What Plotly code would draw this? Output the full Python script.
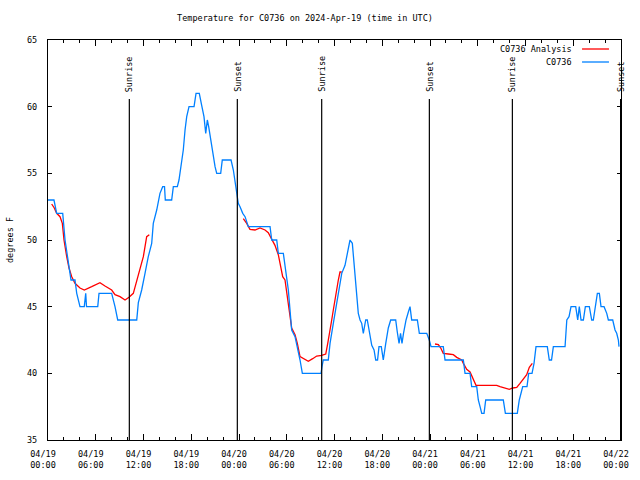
import pandas as pd
import plotly.graph_objects as go

BASE = pd.Timestamp("2024-04-19 00:00")

# Observed C0736 temperatures (hours since 2024-04-19 00:00 UTC, degrees F)
obs_hours = [0.00, 0.75, 1.09, 1.85, 2.14, 2.55, 2.89, 3.39, 3.61, 4.02, 4.56, 4.74, 4.84, 6.25, 6.41,
             8.00, 8.23, 8.42, 8.76, 11.15, 11.35, 11.77, 12.19, 12.60, 13.03, 13.23, 13.66, 14.07,
             14.41, 14.64, 14.74, 15.54, 15.75, 16.25, 16.46, 16.80, 17.00, 17.22, 17.43, 17.72,
             18.35, 18.60, 19.01, 19.31, 19.60, 19.82, 20.02, 20.19, 20.45, 20.70, 20.99, 21.20,
             21.70, 21.90, 23.00, 23.29, 23.59, 23.91, 24.13, 24.47, 24.76, 25.17, 27.90, 28.11,
             28.74, 28.94, 29.57, 29.78, 29.99, 30.20, 30.41, 30.62, 31.04, 31.45, 31.67, 31.96,
             34.31, 34.43, 34.59, 35.22, 35.44, 35.85, 36.19, 36.48, 36.91, 37.32, 37.61, 37.95,
             38.24, 38.58, 38.79, 38.99, 39.21, 39.42, 39.62, 39.92, 40.12, 40.37, 40.68, 40.97,
             41.18, 41.41, 41.59, 41.88, 42.13, 42.44, 42.76, 43.06, 43.69, 43.89, 44.11, 44.30,
             44.48, 44.67, 44.99, 45.28, 45.49, 45.70, 46.41, 46.66, 47.59, 47.91, 48.13, 49.67,
             49.89, 52.19, 52.40, 53.03, 53.24, 53.87, 54.07, 54.29, 54.50, 54.79, 55.00, 57.21,
             57.47, 58.97, 59.22, 59.65, 60.19, 60.40, 60.82, 61.07, 61.32, 62.74, 62.99, 63.27,
             63.50, 64.97, 65.19, 65.47, 65.72, 66.31, 66.56, 66.76, 66.98, 67.27, 67.52, 68.02,
             68.32, 68.52, 68.74, 69.03, 69.28, 69.49, 69.87, 70.21, 70.41, 70.96, 71.25, 71.46,
             71.67, 71.75]
obs_temps = [53, 53, 52, 52, 50, 48.5, 47, 47, 46, 45, 45, 46, 45, 45, 46,
             46, 45.5, 45, 44, 44, 45.3, 46.25, 47.5, 48.75, 49.75, 51.25, 52.25, 53.5,
             54, 54, 53, 53, 54, 54, 54.5, 56, 56.75, 58.25, 59.25, 60,
             60, 61, 61, 60.1, 59.25, 58, 59, 58.5, 57.5, 56.5, 55.5, 55,
             55, 56, 56, 55.25, 54, 52.75, 52.5, 52, 51.75, 51, 51, 50,
             50, 49, 49, 48, 47.25, 46.25, 44.75, 43.25, 42.75, 41.75, 41, 40,
             40, 40.5, 41, 41, 42.25, 43.75, 45, 46.25, 47.5, 48.1, 49, 50,
             49.75, 47.5, 45.5, 44.5, 44, 43.75, 43, 44, 44, 43.1, 42.1, 41.75,
             41, 41, 42, 42, 41, 42.25, 43.4, 44, 44, 43.1, 42.25, 43,
             42.25, 43, 44, 44.6, 45, 44, 44, 43, 43, 42.5, 42, 42,
             41, 41, 40, 40, 39, 39, 38, 37.5, 37, 37, 38, 38,
             37, 37, 38, 39, 39, 40, 40, 40.75, 42, 42, 41, 41,
             42, 42, 44, 44.25, 45, 45, 44, 45, 44, 44, 45, 45,
             44, 44, 45, 46, 46, 45, 45, 44.5, 44, 44, 43.25, 43,
             42.5, 42]

# Analysis segments (hours, degrees F)
ana1_hours = [0.46, 0.79, 1.09, 1.51, 1.80, 2.01, 2.35, 2.64, 2.98, 3.39, 4.02, 4.56, 5.49, 6.53,
              7.16, 8.00, 8.42, 9.05, 9.68, 10.18, 10.72, 11.15, 11.56, 11.98, 12.40, 12.73]
ana1_temps = [52.7, 52.4, 52, 51.75, 51.25, 50, 48.75, 47.9, 47.25, 46.75, 46.4, 46.25, 46.5, 46.8,
              46.55, 46.25, 45.9, 45.75, 45.5, 45.7, 46, 47, 48, 48.75, 50.25, 50.4]
ana2_hours = [24.54, 24.97, 25.38, 26.01, 26.64, 27.27, 27.68, 28.11, 28.52, 28.94, 29.24, 29.49,
              29.78, 30.07, 30.41, 30.62, 31.04, 31.33, 31.67, 32.17, 32.71, 33.26, 33.76, 34.39,
              34.90, 35.15, 35.44, 35.65, 35.85, 36.06, 36.28, 36.48, 36.69, 36.91]
ana2_temps = [51.6, 51.25, 50.8, 50.75, 50.9, 50.75, 50.55, 50.1, 49.6, 48.9, 48, 47.25,
              47, 45.75, 44.25, 43.4, 42.9, 42.25, 41.25, 41.05, 40.9, 41.1, 41.3, 41.35,
              41.45, 42.25, 43.5, 44, 44.75, 45.5, 46.5, 47, 47.6, 47.6]
ana3_hours = [48.63, 49.05, 49.35, 49.67, 50.30, 50.93, 51.36, 51.99, 52.19, 52.61, 53.03, 53.44,
              53.78, 55.13, 56.38, 56.80, 57.43, 57.97, 58.39, 58.90, 59.31, 59.73, 60.15, 60.48,
              60.86]
ana3_temps = [42.2, 42.15, 41.9, 41.5, 41.45, 41.4, 41.2, 41, 40.75, 40.3, 40.1, 39.5,
              39.1, 39.1, 39.1, 39, 38.9, 38.8, 38.9, 38.95, 39.25, 39.6, 39.9, 40.45,
              40.75]

sun_labels = ["Sunrise", "Sunset", "Sunrise", "Sunset", "Sunrise", "Sunset"]
sun_hours = [10.22, 23.79, 34.39, 47.92, 58.35, 71.95]

y_range = [35, 65]
title_text = "Temperature for C0736 on 2024-Apr-19 (time in UTC)"
y_title = "degrees F"
series_names = ["C0736 Analysis", "C0736"]
colors = ["#ff0000", "#0080ff"]


def to_time(hours):
    return [BASE + pd.Timedelta(hours=h) for h in hours]


ana_x, ana_y = [], []
for hs, ts in [(ana1_hours, ana1_temps), (ana2_hours, ana2_temps), (ana3_hours, ana3_temps)]:
    ana_x += to_time(hs) + [None]
    ana_y += ts + [None]

FONT = "DejaVu Sans Mono"
fsize = 8.5

fig = go.Figure()
fig.add_trace(go.Scatter(x=ana_x, y=ana_y, mode="lines", name=series_names[0],
                         line=dict(color=colors[0], width=1.3), connectgaps=False))
fig.add_trace(go.Scatter(x=to_time(obs_hours), y=obs_temps, mode="lines", name=series_names[1],
                         line=dict(color=colors[1], width=1.3)))

# Sunrise / sunset markers
for lbl, h in zip(sun_labels, sun_hours):
    t = BASE + pd.Timedelta(hours=h)
    fig.add_shape(type="line", xref="x", yref="paper", x0=t, x1=t, y0=0, y1=0.8525,
                  line=dict(color="black", width=1.2))
    fig.add_annotation(x=t, xref="x", y=0.865, yref="paper", text=lbl, textangle=-90,
                       showarrow=False, xanchor="center", yanchor="bottom",
                       font=dict(family=FONT, size=fsize, color="black"))

# Gnuplot-style legend: text then line sample
legend_rows = [0.9775, 0.945]
for name, col, yy in zip(series_names, colors, legend_rows):
    fig.add_annotation(x=0.918, xref="paper", y=yy, yref="paper", text=name, showarrow=False,
                       xanchor="right", yanchor="middle",
                       font=dict(family=FONT, size=fsize, color="black"))
    fig.add_shape(type="line", xref="paper", yref="paper", x0=0.932, x1=0.979, y0=yy, y1=yy,
                  line=dict(color=col, width=1.3))

fig.add_annotation(x=0, xref="paper", xshift=-38, y=0.5, yref="paper", text=y_title,
                   textangle=-90, showarrow=False, xanchor="center", yanchor="middle",
                   font=dict(family=FONT, size=fsize, color="black"))

fig.update_layout(
    width=640, height=480,
    margin=dict(l=48, r=19, t=40, b=40, autoexpand=False),
    paper_bgcolor="white", plot_bgcolor="white",
    showlegend=False,
    title=dict(text=title_text, x=305 / 640, xref="container", xanchor="center",
               y=1 - 18 / 480, yanchor="middle",
               font=dict(family=FONT, size=fsize, color="black")),
    font=dict(family=FONT, size=fsize, color="black"),
)
fig.update_xaxes(
    type="date",
    range=[BASE, BASE + pd.Timedelta(hours=72)],
    dtick=6 * 3600 * 1000, tick0=BASE,
    tickformat="%m/%d<br>%H:%M",
    ticks="inside", ticklen=6, tickcolor="black", tickwidth=1,
    minor=dict(dtick=2 * 3600 * 1000, ticks="inside", ticklen=3, tickcolor="black"),
    showline=True, linecolor="black", linewidth=1.2, mirror="allticks",
    showgrid=False, zeroline=False,
    ticklabelstandoff=6, ticklabelshift=-5,
    tickfont=dict(family=FONT, size=fsize, color="black"),
)
fig.update_yaxes(
    range=y_range, dtick=5, tick0=35,
    ticks="inside", ticklen=4, tickcolor="black",
    showline=True, linecolor="black", linewidth=1.2, mirror="allticks",
    showgrid=False, zeroline=False,
    ticklabelstandoff=8,
    tickfont=dict(family=FONT, size=fsize, color="black"),
)

fig.write_html("out.html", config={"displayModeBar": False},
               post_script="document.body.style.margin='0';")
